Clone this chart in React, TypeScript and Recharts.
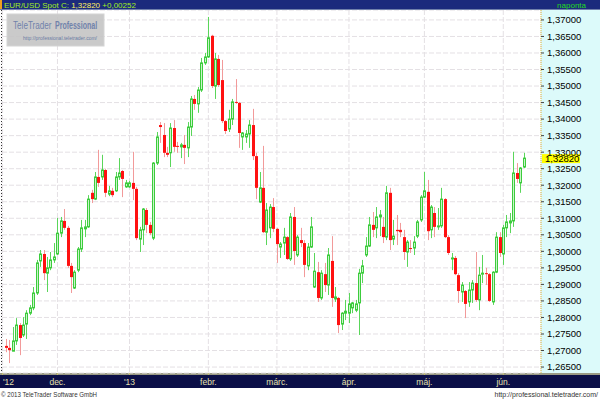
import { ComposedChart, Bar, XAxis, YAxis, CartesianGrid, ReferenceLine } from 'recharts'

// daily EUR/USD candles, mid Nov 2012 -> mid Jun 2013
const opens = [
  1.2714, 1.2708, 1.2698, 1.2729, 1.2777, 1.2747, 1.2780, 1.2813, 1.2829, 1.2874,
  1.2971, 1.2992, 1.2934, 1.2950, 1.2974, 1.2992, 1.3055, 1.3092, 1.3071, 1.2956,
  1.2889, 1.2943, 1.3007, 1.3068, 1.3074, 1.3177, 1.3158, 1.3225, 1.3225, 1.3246,
  1.3173, 1.3183, 1.3183, 1.3225, 1.3243, 1.3195, 1.3195, 1.3207, 1.3189, 1.3037,
  1.3065, 1.3125, 1.3080, 1.3040, 1.3267, 1.3382, 1.3352, 1.3298, 1.3298, 1.3373,
  1.3319, 1.3316, 1.3322, 1.3313, 1.3376, 1.3461, 1.3446, 1.3488, 1.3570, 1.3588,
  1.3652, 1.3500, 1.3582, 1.3518, 1.3394, 1.3370, 1.3400, 1.3452, 1.3449, 1.3346,
  1.3346, 1.3355, 1.3382, 1.3288, 1.3149, 1.3192, 1.3058, 1.3071, 1.3134, 1.3068,
  1.3013, 1.3025, 1.3043, 1.2977, 1.3104, 1.2989, 1.3034, 1.3025, 1.2956, 1.3013,
  1.2892, 1.2937, 1.2859, 1.2931, 1.2898, 1.2971, 1.2856, 1.2859, 1.2780, 1.2813,
  1.2813, 1.2829, 1.2822, 1.2844, 1.2934, 1.2989, 1.3016, 1.3080, 1.3071, 1.3104,
  1.3074, 1.3043, 1.3177, 1.3037, 1.3065, 1.3065, 1.3043, 1.2998, 1.3010, 1.3010,
  1.3046, 1.3095, 1.3164, 1.3180, 1.3065, 1.3116, 1.3074, 1.3077, 1.3158, 1.3043,
  1.2977, 1.2980, 1.2928, 1.2877, 1.2880, 1.2847, 1.2883, 1.2904, 1.2853, 1.2931,
  1.2934, 1.2931, 1.2847, 1.2937, 1.3043, 1.2992, 1.3071, 1.3086, 1.3092, 1.3237,
  1.3207, 1.3255,
]
const highs = [
  1.2735, 1.2732, 1.2771, 1.2798, 1.2783, 1.2801, 1.2822, 1.2838, 1.2892, 1.2974,
  1.3004, 1.3004, 1.2983, 1.2998, 1.3025, 1.3101, 1.3104, 1.3128, 1.3077, 1.2965,
  1.2943, 1.3013, 1.3095, 1.3095, 1.3170, 1.3186, 1.3240, 1.3307, 1.3292, 1.3250,
  1.3198, 1.3192, 1.3240, 1.3282, 1.3246, 1.3216, 1.3213, 1.3301, 1.3195, 1.3074,
  1.3131, 1.3131, 1.3089, 1.3270, 1.3361, 1.3391, 1.3388, 1.3316, 1.3388, 1.3397,
  1.3331, 1.3328, 1.3352, 1.3391, 1.3470, 1.3473, 1.3497, 1.3585, 1.3600, 1.3709,
  1.3655, 1.3600, 1.3594, 1.3579, 1.3397, 1.3428, 1.3461, 1.3521, 1.3452, 1.3361,
  1.3367, 1.3397, 1.3431, 1.3298, 1.3240, 1.3319, 1.3146, 1.3143, 1.3161, 1.3071,
  1.3028, 1.3071, 1.3046, 1.3116, 1.3134, 1.3049, 1.3071, 1.3034, 1.3025, 1.3104,
  1.2995, 1.2968, 1.2943, 1.2965, 1.3010, 1.3046, 1.2892, 1.2862, 1.2816, 1.2853,
  1.2874, 1.2847, 1.2853, 1.2947, 1.2974, 1.3043, 1.3104, 1.3119, 1.3134, 1.3125,
  1.3104, 1.3198, 1.3192, 1.3095, 1.3110, 1.3086, 1.3065, 1.3034, 1.3034, 1.3046,
  1.3095, 1.3170, 1.3240, 1.3216, 1.3140, 1.3134, 1.3131, 1.3192, 1.3161, 1.3049,
  1.2995, 1.2986, 1.2934, 1.2907, 1.2883, 1.2907, 1.2913, 1.2998, 1.2953, 1.2989,
  1.2950, 1.2934, 1.2940, 1.3058, 1.3058, 1.3080, 1.3110, 1.3116, 1.3301, 1.3267,
  1.3255, 1.3298,
]
const lows = [
  1.2695, 1.2662, 1.2698, 1.2717, 1.2686, 1.2741, 1.2735, 1.2807, 1.2822, 1.2868,
  1.2953, 1.2913, 1.2877, 1.2943, 1.2965, 1.2989, 1.3043, 1.3065, 1.2950, 1.2874,
  1.2886, 1.2937, 1.2998, 1.3043, 1.3071, 1.3146, 1.3155, 1.3195, 1.3216, 1.3164,
  1.3167, 1.3164, 1.3180, 1.3216, 1.3164, 1.3192, 1.3192, 1.3155, 1.3034, 1.2998,
  1.3019, 1.3055, 1.3049, 1.3034, 1.3261, 1.3328, 1.3285, 1.3285, 1.3255, 1.3301,
  1.3298, 1.3282, 1.3264, 1.3285, 1.3349, 1.3428, 1.3419, 1.3482, 1.3564, 1.3585,
  1.3494, 1.3461, 1.3497, 1.3388, 1.3355, 1.3361, 1.3382, 1.3446, 1.3313, 1.3307,
  1.3328, 1.3313, 1.3276, 1.3158, 1.3146, 1.3055, 1.3019, 1.3040, 1.3058, 1.2965,
  1.2980, 1.2989, 1.2974, 1.2971, 1.2959, 1.2983, 1.3013, 1.2922, 1.2943, 1.3010,
  1.2889, 1.2847, 1.2853, 1.2877, 1.2868, 1.2832, 1.2847, 1.2753, 1.2762, 1.2792,
  1.2783, 1.2813, 1.2816, 1.2747, 1.2904, 1.2983, 1.3013, 1.3043, 1.3040, 1.3046,
  1.3025, 1.3034, 1.3004, 1.3019, 1.3019, 1.3043, 1.2974, 1.2953, 1.2995, 1.2989,
  1.3040, 1.3089, 1.3161, 1.3034, 1.3040, 1.3043, 1.3065, 1.3071, 1.3040, 1.2989,
  1.2943, 1.2928, 1.2844, 1.2847, 1.2798, 1.2832, 1.2844, 1.2847, 1.2822, 1.2904,
  1.2898, 1.2847, 1.2838, 1.2934, 1.2983, 1.2959, 1.3043, 1.3055, 1.3074, 1.3207,
  1.3177, 1.3252,
]
const closes = [
  1.2708, 1.2701, 1.2729, 1.2777, 1.2738, 1.2777, 1.2813, 1.2829, 1.2874, 1.2965,
  1.2992, 1.2934, 1.2950, 1.2974, 1.2983, 1.3055, 1.3092, 1.3071, 1.2956, 1.2922,
  1.2937, 1.3007, 1.3071, 1.3074, 1.3158, 1.3158, 1.3225, 1.3207, 1.3246, 1.3177,
  1.3183, 1.3170, 1.3225, 1.3237, 1.3219, 1.3207, 1.3207, 1.3189, 1.3040, 1.3065,
  1.3128, 1.3080, 1.3055, 1.3267, 1.3346, 1.3376, 1.3298, 1.3292, 1.3373, 1.3316,
  1.3316, 1.3322, 1.3313, 1.3376, 1.3461, 1.3446, 1.3488, 1.3570, 1.3588, 1.3646,
  1.3500, 1.3582, 1.3503, 1.3394, 1.3364, 1.3400, 1.3452, 1.3449, 1.3358, 1.3358,
  1.3355, 1.3382, 1.3288, 1.3192, 1.3192, 1.3058, 1.3125, 1.3134, 1.3068, 1.3022,
  1.3022, 1.3043, 1.2977, 1.3104, 1.3001, 1.3043, 1.3025, 1.2959, 1.3013, 1.3074,
  1.2940, 1.2859, 1.2934, 1.2898, 1.2989, 1.2859, 1.2862, 1.2777, 1.2813, 1.2819,
  1.2841, 1.2844, 1.2841, 1.2934, 1.2956, 1.3016, 1.3080, 1.3065, 1.3104, 1.3110,
  1.3043, 1.3177, 1.3034, 1.3046, 1.3061, 1.3058, 1.2998, 1.3028, 1.3007, 1.3028,
  1.3089, 1.3164, 1.3183, 1.3061, 1.3134, 1.3074, 1.3077, 1.3158, 1.3043, 1.2995,
  1.2980, 1.2931, 1.2880, 1.2898, 1.2841, 1.2883, 1.2904, 1.2853, 1.2928, 1.2934,
  1.2931, 1.2850, 1.2937, 1.3043, 1.2995, 1.3071, 1.3089, 1.3092, 1.3237, 1.3219,
  1.3252, 1.3282,
]

// x positions are trading-day indices; month starts fall on these candles
const monthTicks = [-1, 15, 36, 59, 79, 100, 122, 145]
const monthLabels = ["'12", 'dec.', "'13", 'febr.', 'márc.', 'ápr.', 'máj.', 'jún.']
const priceTicks = [
  1.265, 1.27, 1.275, 1.28, 1.285, 1.29, 1.295, 1.3, 1.305, 1.31, 1.315,
  1.32, 1.325, 1.33, 1.335, 1.34, 1.345, 1.35, 1.355, 1.36, 1.365, 1.37,
]
const lastClose = 1.3282
const change = 0.00252

const FONT = '"Liberation Sans", Arial, sans-serif'
const fmt = (v: number) => v.toFixed(5).replace('.', ',')

const data = opens.map((open, i) => ({
  idx: i,
  open,
  high: highs[i],
  low: lows[i],
  close: closes[i],
  range: [lows[i], highs[i]],
}))

function Candle(props: any) {
  const { x, y, width, height, payload } = props
  if (!payload || height == null) return null
  const { open, close, high, low } = payload
  const h = Math.abs(height)
  const top = height < 0 ? y + height : y
  const k = h / (high - low || 1)
  const py = (v: number) => top + (high - v) * k
  const cx = Math.round(x + width / 2) + 0.5
  const up = close >= open
  const bTop = py(Math.max(open, close))
  const bh = Math.max(1, py(Math.min(open, close)) - bTop)
  return (
    <g>
      <line x1={cx} x2={cx} y1={top} y2={top + h} stroke={up ? '#5ad65a' : '#f29a9a'} strokeWidth={1} />
      {up ? (
        <rect x={cx - 1} y={bTop} width={2} height={bh} fill="#c8f4c8" stroke="#3ccc3c" strokeWidth={1} />
      ) : (
        <rect x={cx - 1.5} y={bTop} width={3} height={bh} fill="#ff1111" />
      )}
    </g>
  )
}

function MonthTick(props: any) {
  const { x, payload } = props
  const i = monthTicks.indexOf(payload.value)
  if (i < 0) return null
  const first = i === 0
  return (
    <text
      x={first ? 3 : x}
      y={385}
      textAnchor={first ? 'start' : 'middle'}
      fontSize={8.5}
      fontFamily={FONT}
      fill="#e6e2b0"
    >
      {monthLabels[i]}
    </text>
  )
}

function PriceFlag(props: any) {
  const { viewBox } = props
  if (!viewBox) return null
  const x = viewBox.x + viewBox.width + 1
  const y = viewBox.y
  return (
    <g>
      <rect x={x} y={y - 4} width={38} height={9} fill="#ffff00" />
      <text x={x + 3} y={y + 3.5} fontSize={9.5} fontFamily={FONT} fill="#000">
        {fmt(lastClose)}
      </text>
    </g>
  )
}

export default function App() {
  return (
    <div style={{ position: 'absolute', left: 0, top: 0, width: 600, height: 400, background: '#fff', overflow: 'hidden' }}>
      <div style={{ position: 'absolute', left: 541, top: 10, width: 59, height: 363, background: '#dcfafa' }} />
      <div style={{ position: 'absolute', left: 0, top: 373, width: 600, height: 2, background: '#9a9a84' }} />
      <div style={{ position: 'absolute', left: 0, top: 375, width: 600, height: 13, background: '#0b0f47' }} />

      <div style={{ position: 'absolute', left: 0, top: 0 }}>
        <ComposedChart width={600} height={388} data={data} margin={{ top: 10, right: 0, bottom: 0, left: 2 }}>
          <CartesianGrid stroke="#e4e0e4" strokeDasharray="5 2" />
          <XAxis
            dataKey="idx"
            type="number"
            domain={[-1.17, 156]}
            ticks={monthTicks}
            interval={0}
            allowDataOverflow
            height={15}
            axisLine={false}
            tickLine={{ stroke: '#c8c070' }}
            tickSize={2}
            tick={<MonthTick />}
          />
          <YAxis
            orientation="right"
            width={59}
            domain={[1.2632, 1.373]}
            ticks={priceTicks}
            interval={0}
            allowDataOverflow
            tickFormatter={fmt}
            tick={{ fontSize: 9.5, fill: '#000', fontFamily: FONT }}
            tickSize={3}
            tickMargin={3}
            tickLine={{ stroke: '#444' }}
            axisLine={{ stroke: '#d6c040', strokeDasharray: '1 1' }}
          />
          <Bar dataKey="range" barSize={3} shape={<Candle />} isAnimationActive={false} />
          <ReferenceLine y={lastClose} stroke="none" label={<PriceFlag />} />
        </ComposedChart>
      </div>

      <svg width={600} height={400} style={{ position: 'absolute', left: 0, top: 0, pointerEvents: 'none' }}>
        <rect x={0} y={0} width={600} height={9} fill="#1b2a7c" />
        <rect x={0} y={9} width={600} height={1} fill="#7080aa" />
        <rect x={0} y={0} width={2} height={9} fill="#f0a020" />
        <text x={4} y={7.5} fontSize={8} fontFamily={FONT}>
          <tspan fill="#a2ee22">EUR/USD Spot C: </tspan>
          <tspan fill="#fff060">{fmt(lastClose)}</tspan>
          <tspan fill="#a2ee22"> +{fmt(change)}</tspan>
        </text>
        <text x={586} y={7.5} fontSize={8} fontFamily={FONT} fill="#22dd22" textAnchor="end">
          naponta
        </text>

        <line x1={1.5} x2={1.5} y1={10} y2={373} stroke="#333" strokeDasharray="1 2" />

        <rect x={7} y={14} width={97} height={32} fill="#c4c4c4" fillOpacity={0.9} stroke="#d4d4d4" />
        <g transform="translate(13 29) scale(0.74 1)">
          <text x={0} y={0} fontSize={11} fontFamily={FONT} fill="#7082aa">
            TeleTrader
          </text>
        </g>
        <g transform="translate(55 29) scale(0.64 1)">
          <text x={0} y={0} fontSize={11} fontWeight="bold" fontFamily={FONT} fill="#7082aa">
            Professional
          </text>
        </g>
        <text x={23} y={40} fontSize={6} fontFamily={FONT} fill="#6a7ca4" textLength={74} lengthAdjust="spacingAndGlyphs">
          http://professional.teletrader.com/
        </text>

        <text x={1} y={397} fontSize={8} fontFamily={FONT} fill="#333" textLength={96} lengthAdjust="spacingAndGlyphs">
          © 2013 TeleTrader Software GmbH
        </text>
        <text x={598} y={397} fontSize={7} fontFamily={FONT} fill="#333" textAnchor="end">
          http://professional.teletrader.com/
        </text>
      </svg>
    </div>
  )
}
